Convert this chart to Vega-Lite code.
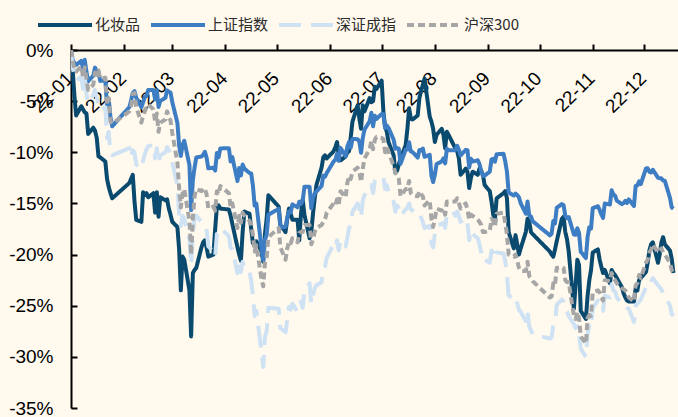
{
  "$schema": "https://vega.github.io/schema/vega-lite/v6.json",
  "width": 607,
  "height": 358,
  "autosize": {"type": "none"},
  "padding": {"left": 71, "top": 50, "right": 0, "bottom": 9},
  "background": "#FFF9EE",
  "config": {
    "view": {"stroke": null},
    "font": "Liberation Sans",
    "legend": {
      "orient": "none",
      "legendX": -35,
      "legendY": -54,
      "direction": "horizontal",
      "symbolType": "stroke",
      "symbolSize": 2916,
      "symbolStrokeWidth": 4,
      "labelFont": "Noto Sans CJK SC",
      "labelFontSize": 15,
      "labelColor": "#2B2B2B",
      "labelOffset": 1,
      "columnPadding": 2,
      "padding": 0
    }
  },
  "data": {
    "values": [
      {"d":"2022-01-04","化妆品":0,"上证指数":0,"深证成指":0,"沪深300":0},
      {"d":"2022-01-05","化妆品":-2.0,"上证指数":-1.02,"深证成指":-1.8,"沪深300":-1.0},
      {"d":"2022-01-06","化妆品":-4.5,"上证指数":-1.27,"深证成指":-2.4,"沪深300":-2.0},
      {"d":"2022-01-07","化妆品":-6.4,"上证指数":-1.45,"深证成指":-3.0,"沪深300":-2.1},
      {"d":"2022-01-10","化妆品":-5.5,"上证指数":-1.07,"深证成指":-2.6,"沪深300":-1.6},
      {"d":"2022-01-11","化妆品":-5.8,"上证指数":-1.79,"深证成指":-3.8,"沪深300":-2.6},
      {"d":"2022-01-12","化妆品":-6.1,"上证指数":-0.96,"深证成指":-2.6,"沪深300":-1.7},
      {"d":"2022-01-13","化妆品":-6.2,"上证指数":-2.12,"深证成指":-4.3,"沪深300":-2.8},
      {"d":"2022-01-14","化妆品":-8.2,"上证指数":-3.06,"深证成指":-5.2,"沪深300":-3.9},
      {"d":"2022-01-17","化妆品":-7.6,"上证指数":-2.50,"深证成指":-4.4,"沪深300":-3.4},
      {"d":"2022-01-18","化妆品":-7.9,"上证指数":-1.72,"深证成指":-3.9,"沪深300":-2.2},
      {"d":"2022-01-19","化妆品":-8.6,"上证指数":-2.04,"深证成指":-4.6,"沪深300":-2.4},
      {"d":"2022-01-20","化妆品":-10.4,"上证指数":-2.13,"深证成指":-5.4,"沪深300":-2.0},
      {"d":"2022-01-21","化妆品":-10.5,"上证指数":-3.02,"深证成指":-5.9,"沪深300":-2.8},
      {"d":"2022-01-24","化妆品":-10.9,"上证指数":-2.98,"深证成指":-5.6,"沪深300":-2.7},
      {"d":"2022-01-25","化妆品":-12.6,"上证指数":-5.49,"深证成指":-8.6,"沪深300":-5.3},
      {"d":"2022-01-26","化妆品":-13.4,"上证指数":-4.86,"深证成指":-8.0,"沪深300":-4.7},
      {"d":"2022-01-27","化妆品":-14.0,"上证指数":-6.55,"深证成指":-10.2,"沪深300":-7.0},
      {"d":"2022-01-28","化妆品":-14.5,"上证指数":-7.46,"深证成指":-10.3,"沪深300":-7.2},
      {"d":"2022-02-07","化妆品":-13.0,"上证指数":-5.58,"深证成指":-9.6,"沪深300":-6.0},
      {"d":"2022-02-08","化妆品":-12.6,"上证指数":-4.95,"深证成指":-10.5,"沪深300":-5.6},
      {"d":"2022-02-09","化妆品":-12.2,"上证指数":-4.19,"深证成指":-9.8,"沪深300":-4.3},
      {"d":"2022-02-10","化妆品":-14.8,"上证指数":-4.03,"深证成指":-10.0,"沪深300":-4.2},
      {"d":"2022-02-11","化妆品":-16.6,"上证指数":-4.66,"深证成指":-11.2,"沪深300":-5.6},
      {"d":"2022-02-14","化妆品":-16.8,"上证指数":-5.60,"深证成指":-11.6,"沪深300":-7.1},
      {"d":"2022-02-15","化妆品":-13.9,"上证指数":-5.13,"深证成指":-10.8,"沪深300":-6.4},
      {"d":"2022-02-16","化妆品":-14.2,"上证指数":-4.58,"深证成指":-10.2,"沪深300":-6.0},
      {"d":"2022-02-17","化妆品":-14.0,"上证指数":-4.52,"深证成指":-9.7,"沪深300":-5.6},
      {"d":"2022-02-18","化妆品":-14.4,"上证指数":-3.90,"深证成指":-9.4,"沪深300":-5.3},
      {"d":"2022-02-21","化妆品":-14.0,"上证指数":-3.90,"深证成指":-9.3,"沪深300":-5.8},
      {"d":"2022-02-22","化妆品":-15.9,"上证指数":-4.82,"深证成指":-10.6,"沪深300":-7.0},
      {"d":"2022-02-23","化妆品":-13.9,"上证指数":-3.94,"深证成指":-9.6,"沪深300":-6.2},
      {"d":"2022-02-24","化妆品":-16.3,"上证指数":-5.57,"深证成指":-11.0,"沪深300":-8.0},
      {"d":"2022-02-25","化妆品":-14.4,"上证指数":-4.98,"深证成指":-10.3,"沪深300":-7.1},
      {"d":"2022-02-28","化妆品":-14.7,"上证指数":-4.68,"深证成指":-10.0,"沪深300":-6.8},
      {"d":"2022-03-01","化妆品":-14.6,"上证指数":-3.95,"深证成指":-9.5,"沪深300":-6.0},
      {"d":"2022-03-02","化妆品":-15.5,"上证指数":-4.08,"深证成指":-9.8,"沪深300":-6.6},
      {"d":"2022-03-03","化妆品":-16.1,"上证指数":-4.16,"深证成指":-10.1,"沪深300":-6.9},
      {"d":"2022-03-04","化妆品":-16.8,"上证指数":-5.08,"深证成指":-11.0,"沪深300":-8.1},
      {"d":"2022-03-07","化妆品":-17.3,"上证指数":-7.14,"深证成指":-13.2,"沪深300":-11.0},
      {"d":"2022-03-08","化妆品":-19.5,"上证指数":-9.33,"深证成指":-16.0,"沪深300":-13.5},
      {"d":"2022-03-09","化妆品":-23.5,"上证指数":-10.35,"深证成指":-17.2,"沪深300":-15.4},
      {"d":"2022-03-10","化妆品":-20.2,"上证指数":-9.26,"深证成指":-16.2,"沪深300":-14.0},
      {"d":"2022-03-11","化妆品":-20.5,"上证指数":-8.88,"深证成指":-16.5,"沪深300":-13.6},
      {"d":"2022-03-14","化妆品":-23.5,"上证指数":-11.25,"深证成指":-18.5,"沪深300":-16.7},
      {"d":"2022-03-15","化妆品":-28.0,"上证指数":-15.65,"深证成指":-21.0,"沪深300":-20.0},
      {"d":"2022-03-16","化妆品":-21.8,"上证指数":-12.71,"深证成指":-18.0,"沪深300":-16.5},
      {"d":"2022-03-17","化妆品":-21.5,"上证指数":-11.49,"深证成指":-16.5,"沪深300":-14.3},
      {"d":"2022-03-18","化妆品":-21.3,"上证指数":-10.50,"深证成指":-16.2,"沪深300":-13.6},
      {"d":"2022-03-21","化妆品":-19.3,"上证指数":-10.42,"深证成指":-16.8,"沪深300":-13.8},
      {"d":"2022-03-22","化妆品":-18.8,"上证指数":-10.26,"深证成指":-16.9,"沪深300":-13.5},
      {"d":"2022-03-23","化妆品":-18.6,"上证指数":-9.95,"深证成指":-17.1,"沪深300":-13.6},
      {"d":"2022-03-24","化妆品":-19.3,"上证指数":-10.52,"深证成指":-17.6,"沪深300":-14.1},
      {"d":"2022-03-25","化妆品":-20.2,"上证指数":-11.57,"深证成指":-19.2,"沪深300":-15.5},
      {"d":"2022-03-28","化妆品":-20.0,"上证指数":-11.50,"深证成指":-19.7,"沪深300":-15.3},
      {"d":"2022-03-29","化妆品":-17.5,"上证指数":-11.79,"深证成指":-20.2,"沪深300":-15.7},
      {"d":"2022-03-30","化妆品":-15.3,"上证指数":-10.07,"深证成指":-18.0,"沪深300":-13.8},
      {"d":"2022-03-31","化妆品":-15.2,"上证指数":-10.47,"深证成指":-17.8,"沪深300":-14.1},
      {"d":"2022-04-01","化妆品":-15.5,"上证指数":-9.62,"深证成指":-17.4,"沪深300":-13.3},
      {"d":"2022-04-06","化妆品":-15.6,"上证指数":-9.61,"深证成指":-18.2,"沪深300":-14.0},
      {"d":"2022-04-07","化妆品":-16.2,"上证指数":-10.89,"深证成指":-19.3,"沪深300":-15.4},
      {"d":"2022-04-08","化妆品":-17.0,"上证指数":-10.47,"深证成指":-19.5,"沪深300":-15.0},
      {"d":"2022-04-11","化妆品":-19.3,"上证指数":-12.81,"深证成指":-21.8,"沪深300":-17.4},
      {"d":"2022-04-12","化妆品":-20.0,"上证指数":-11.54,"深证成指":-20.5,"沪深300":-16.2},
      {"d":"2022-04-13","化妆品":-20.6,"上证指数":-12.27,"深证成指":-21.7,"沪深300":-16.9},
      {"d":"2022-04-14","化妆品":-17.8,"上证指数":-11.20,"深证成指":-20.7,"沪深300":-15.9},
      {"d":"2022-04-15","化妆品":-15.8,"上证指数":-11.59,"深证成指":-21.3,"沪深300":-16.2},
      {"d":"2022-04-18","化妆品":-16.0,"上证指数":-12.03,"深证成指":-21.6,"沪深300":-16.7},
      {"d":"2022-04-19","化妆品":-17.5,"上证指数":-12.07,"深证成指":-22.6,"沪深300":-17.1},
      {"d":"2022-04-20","化妆品":-18.9,"上证指数":-13.25,"深证成指":-24.0,"沪深300":-18.1},
      {"d":"2022-04-21","化妆品":-18.8,"上证指数":-15.21,"深证成指":-26.0,"沪深300":-19.7},
      {"d":"2022-04-22","化妆品":-18.7,"上证指数":-15.02,"深证成指":-25.5,"沪深300":-19.1},
      {"d":"2022-04-25","化妆品":-19.7,"上证指数":-19.38,"深证成指":-29.5,"沪深300":-22.4},
      {"d":"2022-04-26","化妆品":-20.7,"上证指数":-20.53,"深证成指":-31.0,"沪深300":-23.1},
      {"d":"2022-04-27","化妆品":-18.0,"上证指数":-18.56,"深证成指":-28.0,"沪深300":-20.8},
      {"d":"2022-04-28","化妆品":-16.5,"上证指数":-18.08,"深证成指":-27.5,"沪深300":-20.3},
      {"d":"2022-04-29","化妆品":-14.2,"上证指数":-16.11,"深证成指":-25.2,"沪深300":-18.3},
      {"d":"2022-05-05","化妆品":-15.3,"上证指数":-15.54,"深证成指":-25.3,"沪深300":-17.4},
      {"d":"2022-05-06","化妆品":-17.1,"上证指数":-17.37,"深证成指":-27.2,"沪深300":-19.3},
      {"d":"2022-05-09","化妆品":-17.8,"上证指数":-17.29,"深证成指":-27.6,"沪深300":-20.5},
      {"d":"2022-05-10","化妆品":-16.5,"上证指数":-16.42,"深证成指":-26.4,"沪深300":-19.4},
      {"d":"2022-05-11","化妆品":-15.5,"上证指数":-15.79,"深证成指":-25.1,"沪深300":-18.7},
      {"d":"2022-05-12","化妆品":-16.0,"上证指数":-15.89,"深证成指":-25.4,"沪深300":-18.9},
      {"d":"2022-05-13","化妆品":-16.6,"上证指数":-15.09,"深证成指":-24.8,"沪深300":-18.4},
      {"d":"2022-05-16","化妆品":-16.6,"上证指数":-15.38,"深证成指":-25.6,"沪深300":-18.8},
      {"d":"2022-05-17","化妆品":-18.6,"上证指数":-14.83,"深证成指":-24.9,"沪深300":-17.9},
      {"d":"2022-05-18","化妆品":-16.0,"上证指数":-15.04,"深证成指":-24.6,"沪深300":-17.8},
      {"d":"2022-05-19","化妆品":-14.6,"上证指数":-14.74,"深证成指":-25.2,"沪深300":-17.8},
      {"d":"2022-05-20","化妆品":-16.1,"上证指数":-13.37,"深证成指":-23.4,"沪深300":-17.1},
      {"d":"2022-05-23","化妆品":-18.4,"上证指数":-13.37,"深证成指":-22.8,"沪深300":-17.1},
      {"d":"2022-05-24","化妆品":-17.8,"上证指数":-15.46,"深证成指":-24.8,"沪深300":-19.0},
      {"d":"2022-05-25","化妆品":-16.0,"上证指数":-14.45,"深证成指":-24.0,"沪深300":-18.5},
      {"d":"2022-05-26","化妆品":-14.5,"上证指数":-14.02,"深证成指":-23.3,"沪深300":-17.8},
      {"d":"2022-05-27","化妆品":-13.2,"上证指数":-13.82,"深证成指":-23.0,"沪深300":-17.4},
      {"d":"2022-05-30","化妆品":-11.5,"上证指数":-13.30,"深证成指":-22.7,"沪深300":-17.1},
      {"d":"2022-05-31","化妆品":-10.5,"上证指数":-12.28,"深证成指":-21.5,"沪深300":-16.8},
      {"d":"2022-06-01","化妆品":-10.3,"上证指数":-12.39,"深证成指":-21.2,"沪深300":-16.6},
      {"d":"2022-06-02","化妆品":-10.6,"上证指数":-12.03,"深证成指":-20.3,"沪深300":-15.9},
      {"d":"2022-06-06","化妆品":-9.9,"上证指数":-10.90,"深证成指":-19.0,"沪深300":-15.0},
      {"d":"2022-06-07","化妆品":-9.5,"上证指数":-10.75,"深证成指":-19.3,"沪深300":-15.2},
      {"d":"2022-06-08","化妆品":-9.0,"上证指数":-10.15,"深证成指":-18.6,"沪深300":-14.6},
      {"d":"2022-06-09","化妆品":-10.3,"上证指数":-10.83,"深证成指":-19.6,"沪深300":-15.1},
      {"d":"2022-06-10","化妆品":-10.8,"上证指数":-9.57,"深证成指":-18.6,"沪深300":-13.8},
      {"d":"2022-06-13","化妆品":-10.4,"上证指数":-10.37,"深证成指":-19.2,"沪深300":-14.4},
      {"d":"2022-06-14","化妆品":-10.0,"上证指数":-9.45,"深证成指":-18.4,"沪深300":-13.0},
      {"d":"2022-06-15","化妆品":-9.9,"上证指数":-9.00,"深证成指":-17.4,"沪深300":-12.3},
      {"d":"2022-06-16","化妆品":-8.5,"上证指数":-9.55,"深证成指":-17.2,"沪深300":-12.6},
      {"d":"2022-06-17","化妆品":-7.0,"上证指数":-8.69,"深证成指":-15.8,"沪深300":-11.9},
      {"d":"2022-06-20","化妆品":-5.4,"上证指数":-8.72,"深证成指":-15.0,"沪深300":-11.5},
      {"d":"2022-06-21","化妆品":-6.7,"上证指数":-8.96,"深证成指":-15.5,"沪深300":-11.9},
      {"d":"2022-06-22","化妆品":-7.7,"上证指数":-10.05,"深证成指":-16.4,"沪深300":-12.9},
      {"d":"2022-06-23","化妆品":-5.4,"上证指数":-8.59,"深证成指":-14.7,"沪深300":-11.6},
      {"d":"2022-06-24","化妆品":-6.0,"上证指数":-7.78,"深证成指":-14.2,"沪深300":-10.6},
      {"d":"2022-06-27","化妆品":-4.7,"上证指数":-6.97,"深证成指":-13.5,"沪深300":-9.7},
      {"d":"2022-06-28","化妆品":-5.1,"上证指数":-6.14,"深证成指":-13.2,"沪深300":-8.9},
      {"d":"2022-06-29","化妆品":-5.0,"上证指数":-7.46,"深证成指":-14.0,"沪深300":-9.7},
      {"d":"2022-06-30","化妆品":-3.6,"上证指数":-6.43,"深证成指":-12.8,"沪深300":-8.8},
      {"d":"2022-07-01","化妆品":-3.8,"上证指数":-6.74,"深证成指":-12.6,"沪深300":-8.5},
      {"d":"2022-07-04","化妆品":-3.0,"上证指数":-6.25,"深证成指":-12.5,"沪深300":-8.6},
      {"d":"2022-07-05","化妆品":-6.0,"上证指数":-6.28,"深证成指":-12.4,"沪深300":-8.7},
      {"d":"2022-07-06","化妆品":-7.5,"上证指数":-7.63,"深证成指":-13.6,"沪深300":-10.0},
      {"d":"2022-07-07","化妆品":-8.0,"上证指数":-7.38,"深证成指":-13.2,"沪深300":-9.5},
      {"d":"2022-07-08","化妆品":-9.0,"上证指数":-7.61,"深证成指":-13.8,"沪深300":-9.9},
      {"d":"2022-07-11","化妆品":-10.3,"上证指数":-8.78,"深证成指":-14.8,"沪深300":-11.4},
      {"d":"2022-07-12","化妆品":-12.0,"上证指数":-9.66,"深证成指":-15.8,"沪深300":-12.0},
      {"d":"2022-07-13","化妆品":-11.8,"上证指数":-9.58,"深证成指":-15.2,"沪深300":-12.2},
      {"d":"2022-07-14","化妆品":-11.2,"上证指数":-9.65,"深证成指":-15.5,"沪深300":-12.6},
      {"d":"2022-07-15","化妆品":-10.6,"上证指数":-11.13,"深证成指":-16.2,"沪深300":-14.3},
      {"d":"2022-07-18","化妆品":-9.3,"上证指数":-9.75,"深证成指":-15.6,"沪深300":-13.6},
      {"d":"2022-07-19","化妆品":-7.7,"上证指数":-9.72,"深证成指":-15.4,"沪深300":-13.6},
      {"d":"2022-07-20","化妆品":-5.7,"上证指数":-9.02,"深证成指":-15.0,"沪深300":-12.8},
      {"d":"2022-07-21","化妆品":-6.7,"上证指数":-9.92,"深证成指":-15.6,"沪深300":-14.0},
      {"d":"2022-07-22","化妆品":-6.8,"上证指数":-9.98,"深证成指":-15.7,"沪深300":-14.2},
      {"d":"2022-07-25","化妆品":-6.4,"上证指数":-10.52,"深证成指":-16.0,"沪深300":-14.3},
      {"d":"2022-07-26","化妆品":-4.7,"上证指数":-9.77,"深证成指":-15.9,"沪深300":-13.8},
      {"d":"2022-07-27","化妆品":-4.0,"上证指数":-9.82,"深证成指":-16.4,"沪深300":-14.1},
      {"d":"2022-07-28","化妆品":-3.4,"上证指数":-9.63,"深证成指":-16.8,"沪深300":-14.3},
      {"d":"2022-07-29","化妆品":-2.8,"上证指数":-10.44,"深证成指":-17.4,"沪深300":-15.2},
      {"d":"2022-08-01","化妆品":-6.5,"上证指数":-10.25,"深证成指":-17.2,"沪深300":-14.7},
      {"d":"2022-08-02","化妆品":-7.0,"上证指数":-12.28,"深证成指":-18.9,"沪深300":-16.5},
      {"d":"2022-08-03","化妆品":-7.7,"上证指数":-12.90,"深证成指":-19.3,"沪深300":-17.3},
      {"d":"2022-08-04","化妆品":-9.0,"上证指数":-12.20,"深证成指":-18.0,"沪深300":-16.5},
      {"d":"2022-08-05","化妆品":-8.3,"上证指数":-11.16,"深证成指":-17.2,"沪深300":-15.5},
      {"d":"2022-08-08","化妆品":-7.7,"上证指数":-10.88,"深证成指":-17.0,"沪深300":-15.7},
      {"d":"2022-08-09","化妆品":-8.3,"上证指数":-10.60,"深证成指":-16.9,"沪深300":-15.5},
      {"d":"2022-08-10","化妆品":-9.6,"上证指数":-11.08,"深证成指":-17.4,"沪深300":-16.1},
      {"d":"2022-08-11","化妆品":-8.0,"上证指数":-9.65,"深证成指":-16.0,"沪深300":-14.8},
      {"d":"2022-08-12","化妆品":-8.3,"上证指数":-9.79,"深证成指":-16.2,"沪深300":-14.8},
      {"d":"2022-08-15","化妆品":-9.3,"上证指数":-9.81,"深证成指":-16.0,"沪深300":-14.8},
      {"d":"2022-08-16","化妆品":-9.6,"上证指数":-9.76,"深证成指":-16.2,"沪深300":-14.8},
      {"d":"2022-08-17","化妆品":-9.9,"上证指数":-9.36,"深证成指":-15.8,"沪深300":-14.5},
      {"d":"2022-08-18","化妆品":-10.6,"上证指数":-9.77,"深证成指":-16.2,"沪深300":-15.0},
      {"d":"2022-08-19","化妆品":-12.2,"上证指数":-10.30,"深证成指":-16.8,"沪深300":-15.5},
      {"d":"2022-08-22","化妆品":-11.6,"上证指数":-9.76,"深证成指":-16.4,"沪深300":-15.0},
      {"d":"2022-08-23","化妆品":-11.9,"上证指数":-9.80,"深证成指":-16.8,"沪深300":-15.6},
      {"d":"2022-08-24","化妆品":-13.5,"上证指数":-11.48,"深证成指":-18.6,"沪深300":-16.6},
      {"d":"2022-08-25","化妆品":-12.5,"上证指数":-10.63,"深证成指":-17.6,"沪深300":-16.1},
      {"d":"2022-08-26","化妆品":-11.9,"上证指数":-10.91,"深证成指":-18.0,"沪深300":-16.2},
      {"d":"2022-08-29","化妆品":-12.2,"上证指数":-10.78,"深证成指":-18.4,"沪深300":-16.6},
      {"d":"2022-08-30","化妆品":-11.6,"上证指数":-11.15,"深证成指":-19.0,"沪深300":-16.8},
      {"d":"2022-08-31","化妆品":-11.8,"上证指数":-11.84,"深证成指":-19.8,"沪深300":-17.1},
      {"d":"2022-09-01","化妆品":-12.2,"上证指数":-12.32,"深证成指":-20.6,"沪深300":-17.8},
      {"d":"2022-09-02","化妆品":-13.2,"上证指数":-12.28,"深证成指":-20.5,"沪深300":-17.8},
      {"d":"2022-09-05","化妆品":-13.8,"上证指数":-11.90,"深证成指":-20.8,"沪深300":-17.7},
      {"d":"2022-09-06","化妆品":-14.8,"上证指数":-10.71,"深证成指":-19.6,"沪深300":-16.5},
      {"d":"2022-09-07","化妆品":-16.1,"上证指数":-10.63,"深证成指":-19.8,"沪深300":-16.7},
      {"d":"2022-09-08","化妆品":-16.5,"上证指数":-10.92,"深证成指":-20.4,"沪深300":-17.3},
      {"d":"2022-09-09","化妆品":-14.5,"上证指数":-10.19,"深证成指":-19.8,"沪深300":-16.0},
      {"d":"2022-09-13","化妆品":-14.0,"上证指数":-10.15,"深证成指":-19.9,"沪深300":-15.9},
      {"d":"2022-09-14","化妆品":-13.8,"上证指数":-10.87,"深证成指":-20.6,"沪深300":-16.9},
      {"d":"2022-09-15","化妆品":-14.5,"上证指数":-11.90,"深证成指":-22.0,"沪深300":-18.0},
      {"d":"2022-09-16","化妆品":-17.8,"上证指数":-13.93,"深证成指":-24.0,"沪深300":-20.0},
      {"d":"2022-09-19","化妆品":-19.4,"上证指数":-14.23,"深证成指":-24.4,"沪深300":-20.2},
      {"d":"2022-09-20","化妆品":-18.1,"上证指数":-14.04,"深证成指":-24.2,"沪深300":-20.0},
      {"d":"2022-09-21","化妆品":-19.0,"上证指数":-14.18,"深证成指":-24.8,"沪深300":-20.6},
      {"d":"2022-09-22","化妆品":-20.0,"上证指数":-14.41,"深证成指":-25.4,"沪深300":-21.3},
      {"d":"2022-09-23","化妆品":-19.4,"上证指数":-14.98,"深证成指":-25.6,"沪深300":-21.6},
      {"d":"2022-09-26","化妆品":-17.8,"上证指数":-16.00,"深证成指":-26.5,"沪深300":-21.6},
      {"d":"2022-09-27","化妆品":-16.5,"上证指数":-14.82,"深证成指":-25.6,"沪深300":-20.7},
      {"d":"2022-09-28","化妆品":-16.8,"上证指数":-16.17,"深证成指":-27.0,"沪深300":-22.1},
      {"d":"2022-09-29","化妆品":-17.8,"上证指数":-16.27,"深证成指":-27.4,"沪深300":-22.3},
      {"d":"2022-09-30","化妆品":-18.0,"上证指数":-16.74,"深证成指":-27.8,"沪深300":-22.6},
      {"d":"2022-10-10","化妆品":-19.7,"上证指数":-18.12,"深证成指":-28.2,"沪深300":-24.2},
      {"d":"2022-10-11","化妆品":-20.0,"上证指数":-17.97,"深证成指":-28.1,"沪深300":-24.1},
      {"d":"2022-10-12","化妆品":-20.2,"上证指数":-16.71,"深证成指":-27.0,"沪深300":-22.8},
      {"d":"2022-10-13","化妆品":-19.5,"上证指数":-16.96,"深证成指":-26.7,"沪深300":-23.0},
      {"d":"2022-10-14","化妆品":-18.7,"上证指数":-15.43,"深证成指":-24.9,"沪深300":-21.3},
      {"d":"2022-10-17","化妆品":-16.5,"上证指数":-15.07,"深证成指":-24.4,"沪深300":-21.2},
      {"d":"2022-10-18","化妆品":-16.3,"上证指数":-15.18,"深证成指":-24.6,"沪深300":-21.3},
      {"d":"2022-10-19","化妆品":-17.8,"上证指数":-16.19,"深证成指":-25.4,"沪深300":-22.5},
      {"d":"2022-10-20","化妆品":-18.5,"上证指数":-16.44,"深证成指":-25.6,"沪深300":-22.7},
      {"d":"2022-10-21","化妆品":-19.7,"上证指数":-16.34,"深证成指":-26.0,"沪深300":-22.7},
      {"d":"2022-10-24","化妆品":-25.3,"上证指数":-18.03,"深证成指":-26.8,"沪深300":-26.0},
      {"d":"2022-10-25","化妆品":-23.0,"上证指数":-18.06,"深证成指":-27.2,"沪深300":-26.3},
      {"d":"2022-10-26","化妆品":-20.5,"上证指数":-17.42,"深证成指":-27.0,"沪深300":-25.6},
      {"d":"2022-10-27","化妆品":-21.0,"上证指数":-17.88,"深证成指":-27.7,"沪深300":-26.2},
      {"d":"2022-10-28","化妆品":-25.5,"上证指数":-19.72,"深证成指":-29.2,"沪深300":-28.0},
      {"d":"2022-10-31","化妆品":-26.3,"上证指数":-20.34,"深证成指":-30.0,"沪深300":-28.7},
      {"d":"2022-11-01","化妆品":-24.0,"上证指数":-18.26,"深证成指":-27.8,"沪深300":-26.2},
      {"d":"2022-11-02","化妆品":-22.5,"上证指数":-17.32,"深证成指":-27.0,"沪深300":-25.9},
      {"d":"2022-11-03","化妆品":-21.5,"上证指数":-17.47,"深证成指":-27.2,"沪深300":-26.0},
      {"d":"2022-11-04","化妆品":-19.8,"上证指数":-15.46,"深证成指":-25.2,"沪深300":-23.7},
      {"d":"2022-11-07","化妆品":-19.5,"上证指数":-15.27,"深证成指":-24.5,"沪深300":-23.5},
      {"d":"2022-11-08","化妆品":-20.5,"上证指数":-15.63,"深证成指":-24.8,"沪深300":-23.7},
      {"d":"2022-11-09","化妆品":-21.2,"上证指数":-16.08,"深证成指":-25.3,"沪深300":-24.2},
      {"d":"2022-11-10","化妆品":-21.8,"上证指数":-16.41,"深证成指":-25.5,"沪深300":-24.5},
      {"d":"2022-11-11","化妆品":-21.5,"上证指数":-15.01,"深证成指":-24.0,"沪深300":-22.5},
      {"d":"2022-11-14","化妆品":-22.8,"上证指数":-15.11,"深证成指":-24.2,"沪深300":-22.6},
      {"d":"2022-11-15","化妆品":-21.5,"上证指数":-13.72,"深证成指":-22.9,"沪深300":-21.8},
      {"d":"2022-11-16","化妆品":-21.8,"上证指数":-14.11,"深证成指":-23.5,"沪深300":-22.3},
      {"d":"2022-11-17","化妆品":-22.0,"上证指数":-14.23,"深证成指":-23.6,"沪深300":-22.5},
      {"d":"2022-11-18","化妆品":-22.3,"上证指数":-14.73,"深证成指":-24.2,"沪深300":-22.8},
      {"d":"2022-11-21","化妆品":-23.2,"上证指数":-15.07,"深证成指":-24.8,"沪深300":-23.3},
      {"d":"2022-11-22","化妆品":-23.8,"上证指数":-14.96,"深证成指":-25.0,"沪深300":-23.4},
      {"d":"2022-11-23","化妆品":-24.2,"上证指数":-14.74,"深证成指":-25.0,"沪深300":-23.5},
      {"d":"2022-11-24","化妆品":-24.5,"上证指数":-14.95,"深证成指":-25.2,"沪深300":-23.8},
      {"d":"2022-11-25","化妆品":-24.6,"上证指数":-14.61,"深证成指":-25.3,"沪深300":-24.2},
      {"d":"2022-11-28","化妆品":-24.6,"上证指数":-15.25,"深证成指":-26.6,"沪深300":-24.6},
      {"d":"2022-11-29","化妆品":-23.3,"上证指数":-13.29,"深证成指":-25.0,"沪深300":-23.0},
      {"d":"2022-11-30","化妆品":-23.5,"上证指数":-13.24,"深证成指":-24.8,"沪深300":-22.8},
      {"d":"2022-12-01","化妆品":-22.5,"上证指数":-12.85,"深证成指":-24.6,"沪深300":-22.0},
      {"d":"2022-12-02","化妆品":-22.3,"上证指数":-13.11,"深证成指":-24.4,"沪深300":-22.3},
      {"d":"2022-12-05","化妆品":-21.7,"上证指数":-11.58,"深证成指":-23.2,"沪深300":-20.8},
      {"d":"2022-12-06","化妆品":-20.8,"上证指数":-11.56,"深证成指":-23.3,"沪深300":-20.5},
      {"d":"2022-12-07","化妆品":-19.6,"上证指数":-11.91,"深证成指":-23.0,"沪深300":-19.8},
      {"d":"2022-12-08","化妆品":-19.0,"上证指数":-11.98,"深证成指":-22.6,"沪深300":-19.5},
      {"d":"2022-12-09","化妆品":-18.8,"上证指数":-11.71,"深证成指":-22.3,"沪深300":-19.0},
      {"d":"2022-12-12","化妆品":-20.8,"上证指数":-12.48,"深证成指":-23.0,"沪深300":-19.8},
      {"d":"2022-12-13","化妆品":-20.0,"上证指数":-12.55,"深证成指":-23.2,"沪深300":-19.6},
      {"d":"2022-12-14","化妆品":-18.8,"上证指数":-12.55,"深证成指":-23.4,"沪深300":-19.4},
      {"d":"2022-12-15","化妆品":-18.3,"上证指数":-12.77,"深证成指":-23.8,"沪深300":-19.8},
      {"d":"2022-12-16","化妆品":-19.0,"上证指数":-12.79,"深证成指":-24.0,"沪深300":-20.0},
      {"d":"2022-12-19","化妆品":-19.6,"上证指数":-14.46,"深证成指":-25.0,"沪深300":-20.8},
      {"d":"2022-12-20","化妆品":-20.4,"上证指数":-15.38,"深证成指":-25.8,"沪深300":-21.5},
      {"d":"2022-12-21","化妆品":-21.8,"上证指数":-15.53,"深证成指":-26.0,"沪深300":-21.8}
    ]
  },
  "transform": [
    {"fold": ["化妆品", "上证指数", "深证成指", "沪深300"], "as": ["s", "v"]}
  ],
  "mark": {"type": "line", "strokeWidth": 4, "strokeJoin": "round", "clip": true},
  "encoding": {
    "x": {
      "field": "d",
      "type": "temporal",
      "scale": {
        "domain": [
          {"year": 2022, "month": 1, "date": 4, "utc": true},
          {"year": 2022, "month": 12, "date": 23, "hours": 16, "utc": true}
        ]
      },
      "axis": {
        "orient": "top",
        "title": null,
        "values": [
          {"year": 2022, "month": 1, "date": 4, "utc": true},
          {"year": 2022, "month": 2, "date": 4, "utc": true},
          {"year": 2022, "month": 3, "date": 4, "utc": true},
          {"year": 2022, "month": 4, "date": 4, "utc": true},
          {"year": 2022, "month": 5, "date": 4, "utc": true},
          {"year": 2022, "month": 6, "date": 4, "utc": true},
          {"year": 2022, "month": 7, "date": 4, "utc": true},
          {"year": 2022, "month": 8, "date": 4, "utc": true},
          {"year": 2022, "month": 9, "date": 4, "utc": true},
          {"year": 2022, "month": 10, "date": 4, "utc": true},
          {"year": 2022, "month": 11, "date": 4, "utc": true},
          {"year": 2022, "month": 12, "date": 4, "utc": true}
        ],
        "format": "%y-%m",
        "labelAngle": -45,
        "labelAlign": "right",
        "labelBaseline": "middle",
        "labelPadding": -31,
        "labelOffset": -1.5,
        "labelFont": "Liberation Sans",
        "labelFontSize": 19,
        "labelColor": "#000000",
        "labelOverlap": false,
        "labelFlush": false,
        "labelBound": false,
        "tickSize": 6,
        "tickWidth": 2,
        "tickColor": "#000000",
        "domainColor": "#000000",
        "domainWidth": 2,
        "grid": false
      }
    },
    "y": {
      "field": "v",
      "type": "quantitative",
      "scale": {"domain": [-35, 0], "nice": false, "zero": false},
      "axis": {
        "title": null,
        "values": [0, -5, -10, -15, -20, -25, -30, -35],
        "labelExpr": "datum.value + '%'",
        "labelFont": "Liberation Sans",
        "labelFontSize": 19,
        "labelColor": "#000000",
        "labelPadding": 24,
        "tickSize": -6,
        "tickWidth": 2,
        "tickColor": "#000000",
        "domainColor": "#000000",
        "domainWidth": 2,
        "grid": false,
        "labelOverlap": false,
        "labelFlush": false
      }
    },
    "color": {
      "field": "s",
      "type": "nominal",
      "title": null,
      "sort": ["化妆品", "上证指数", "深证成指", "沪深300"],
      "scale": {
        "domain": ["化妆品", "上证指数", "深证成指", "沪深300"],
        "range": ["#0B4A6F", "#3D7DC3", "#CFE2F4", "#A6A6A6"]
      }
    },
    "strokeDash": {
      "field": "s",
      "type": "nominal",
      "title": null,
      "sort": ["化妆品", "上证指数", "深证成指", "沪深300"],
      "scale": {
        "domain": ["化妆品", "上证指数", "深证成指", "沪深300"],
        "range": [[1, 0], [1, 0], [22, 10], [7, 4]]
      }
    }
  }
}
